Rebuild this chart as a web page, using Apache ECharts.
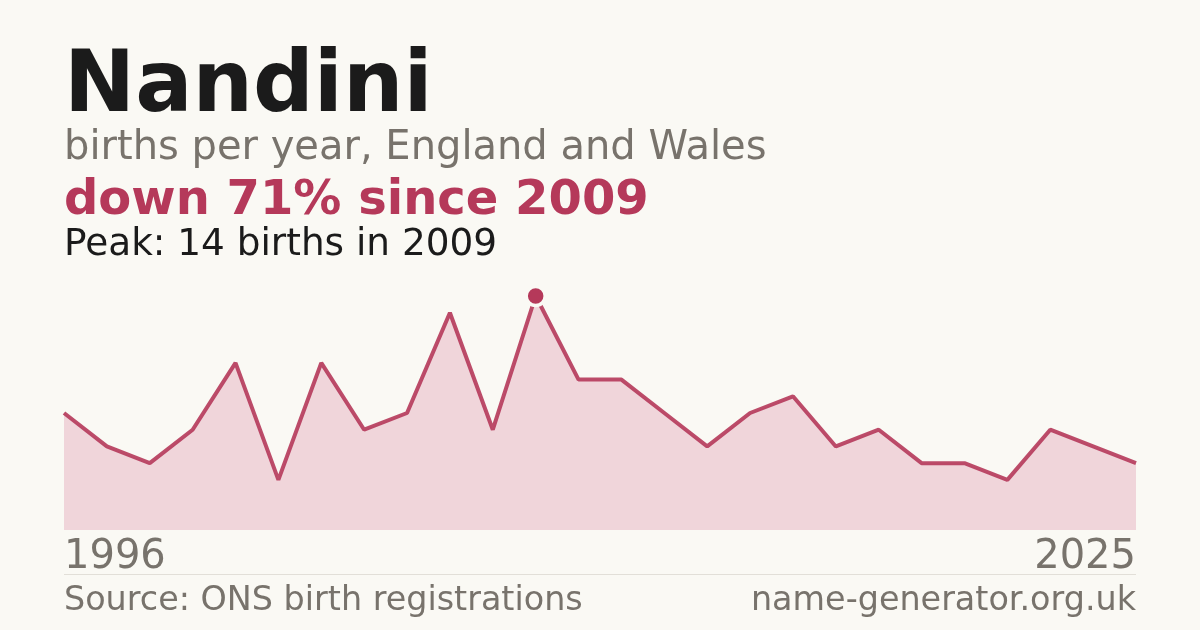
<!DOCTYPE html>
<html>
<head>
<meta charset="utf-8">
<script src="https://cdn.jsdelivr.net/npm/echarts@6/dist/echarts.min.js"></script>
<style>
  html, body { margin: 0; padding: 0; background: #faf9f4; }
  #chart { width: 1200px; height: 630px; }
</style>
</head>
<body>
<div id="chart"></div>
<script>
// births per year (years with no record are skipped)
var years = ['1996', '1997', '1998', '2000', '2001', '2002', '2003', '2004', '2006', '2007',
    '2008', '2009', '2010', '2011', '2012', '2013', '2015', '2016', '2017', '2018',
    '2019', '2021', '2022', '2023', '2024', '2025'];
var births = [7, 5, 4, 6, 10, 3, 10, 6, 7, 13,
    6, 14, 9, 9, 7, 5, 7, 8, 5, 6,
    4, 4, 3, 6, 5, 4];

var sName = 'Nandini';
var sSubtitle = 'births per year, England and Wales';
var sChange = 'down 71% since 2009';
var sPeak = 'Peak: 14 births in 2009';
var sSource = 'Source: ONS birth registrations';
var sSite = 'name-generator.org.uk';

var red = '#b5395a';
var grey = '#78736c';
var font = 'DejaVu Sans';

var myChart = echarts.init(document.getElementById('chart'), null, { renderer: 'canvas' });

var option = {
    backgroundColor: '#faf9f4',
    animation: false,
    grid: { left: 64, right: 64, top: 296, bottom: 100 },
    xAxis: {
        type: 'category',
        data: years,
        boundaryGap: false,
        axisLine: { show: false },
        axisTick: { show: false },
        axisLabel: { show: false },
        splitLine: { show: false }
    },
    yAxis: {
        type: 'value',
        min: 0,
        max: 14,
        show: false
    },
    series: [{
        type: 'line',
        data: births,
        symbol: 'none',
        lineStyle: { color: red, width: 4, opacity: 0.9 },
        areaStyle: { color: '#f0d5da', opacity: 1 },
        markPoint: {
            symbol: 'circle',
            symbolSize: 19,
            data: [{ type: 'max' }],
            itemStyle: { color: red, borderColor: '#faf9f4', borderWidth: 3.5 },
            label: { show: false }
        }
    }],
    graphic: [
        { type: 'text', left: 64, top: 46, style: { text: sName, font: 'bold 85px "' + font + '"', fill: '#1b1b1b' } },
        { type: 'text', left: 64, top: 129, style: { text: sSubtitle, font: '40px "' + font + '"', fill: grey } },
        { type: 'text', left: 64, top: 178, style: { text: sChange, font: 'bold 48px "' + font + '"', fill: red } },
        { type: 'text', left: 64, top: 227, style: { text: sPeak, font: '37.4px "' + font + '"', fill: '#1b1b1b' } },
        { type: 'text', left: 64, top: 538, style: { text: years[0], font: '40px "' + font + '"', fill: grey } },
        { type: 'text', right: 64, top: 538, style: { text: years[years.length - 1], font: '40px "' + font + '"', fill: grey } },
        { type: 'line', shape: { x1: 64, y1: 574.5, x2: 1136, y2: 574.5 }, style: { stroke: '#e2dfd8', lineWidth: 1 } },
        { type: 'text', left: 64, top: 585, style: { text: sSource, font: '33.4px "' + font + '"', fill: grey } },
        { type: 'text', right: 64, top: 585, style: { text: sSite, font: '33.4px "' + font + '"', fill: grey } }
    ]
};

myChart.setOption(option);
window.addEventListener('resize', function () {
    myChart.resize();
});
</script>
</body>
</html>
